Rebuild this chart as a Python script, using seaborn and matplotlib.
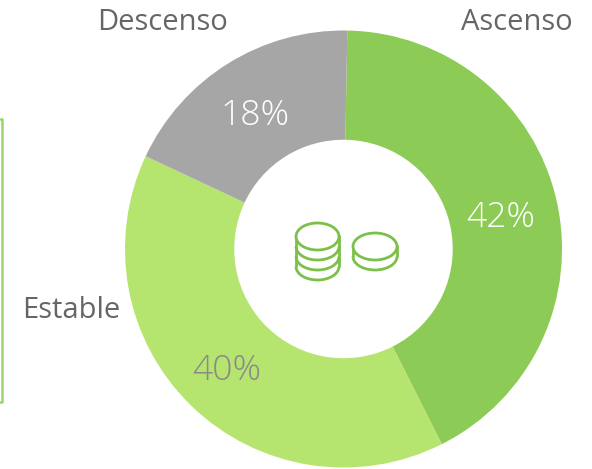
import matplotlib
matplotlib.use("Agg")
import matplotlib.pyplot as plt
from matplotlib.patches import Arc, Ellipse, Rectangle
import seaborn as sns

categories = ["Ascenso", "Estable", "Descenso"]
values = [42.3, 39.4, 18.3]
pct_labels = ["42%", "40%", "18%"]
colors = ["#8CCB55", "#B5E46F", "#A6A6A6"]
pct_colors = ["#FFFFFF", "#8A8A8A", "#FFFFFF"]

sns.set_theme(style="white")
plt.rcParams["font.family"] = ["Open Sans", "DejaVu Sans"]
palette = sns.color_palette(colors)

W, H = 592, 469
fig = plt.figure(figsize=(W / 100, H / 100), dpi=100, facecolor="white")

cx, cy, R = 343.5, 249, 218.5
ax = fig.add_axes([(cx - R) / W, 1 - (cy + R) / H, 2 * R / W, 2 * R / H])
ax.pie(values, colors=palette, startangle=89, counterclock=False, radius=1,
       wedgeprops=dict(width=0.5, linewidth=0))
ax.set_xlim(-1, 1)
ax.set_ylim(-1, 1)
ax.set_aspect("equal")
ax.axis("off")

# overlay in pixel coordinates
ov = fig.add_axes([0, 0, 1, 1], facecolor="none")
ov.set_xlim(0, W)
ov.set_ylim(H, 0)
ov.axis("off")

pct_pos = [(501, 218), (227, 371), (255, 116)]
for t, c, (x, y) in zip(pct_labels, pct_colors, pct_pos):
    ov.text(x, y, t, color=c, fontsize=25.5, fontweight=300, ha="center", va="center")

lab_pos = [(517, 23), (71, 310), (162, 23)]
for t, (x, y) in zip(categories, lab_pos):
    ov.text(x, y, t, color="#666666", fontsize=21, ha="center", va="center")

# left border fragment
ov.plot([0, 2, 2, 0], [119, 119, 402, 402], color="#9BD66A", lw=1.8, clip_on=False)

# coin icon
ic = "#7CC04A"
lw = 2.0
def coin(x, y, w, h, ys):
    bottom = y + ys[-1]
    ov.add_patch(Rectangle((x - w / 2, y), w, ys[-1], fc="white", ec="none", zorder=1.5))
    ov.plot([x - w / 2, x - w / 2], [y, bottom], color=ic, lw=lw, zorder=3)
    ov.plot([x + w / 2, x + w / 2], [y, bottom], color=ic, lw=lw, zorder=3)
    for dy in ys:
        ov.add_patch(Arc((x, y + dy), w, h, theta1=0, theta2=180, ec=ic, lw=lw, zorder=3))
    ov.add_patch(Ellipse((x, y), w, h, fc="white", ec=ic, lw=lw, zorder=4))
coin(317.5, 236.5, 43, 27, (10, 20, 30))
coin(375, 246.5, 44, 27, (10,))

fig.savefig("out.png", dpi=100, facecolor="white")
